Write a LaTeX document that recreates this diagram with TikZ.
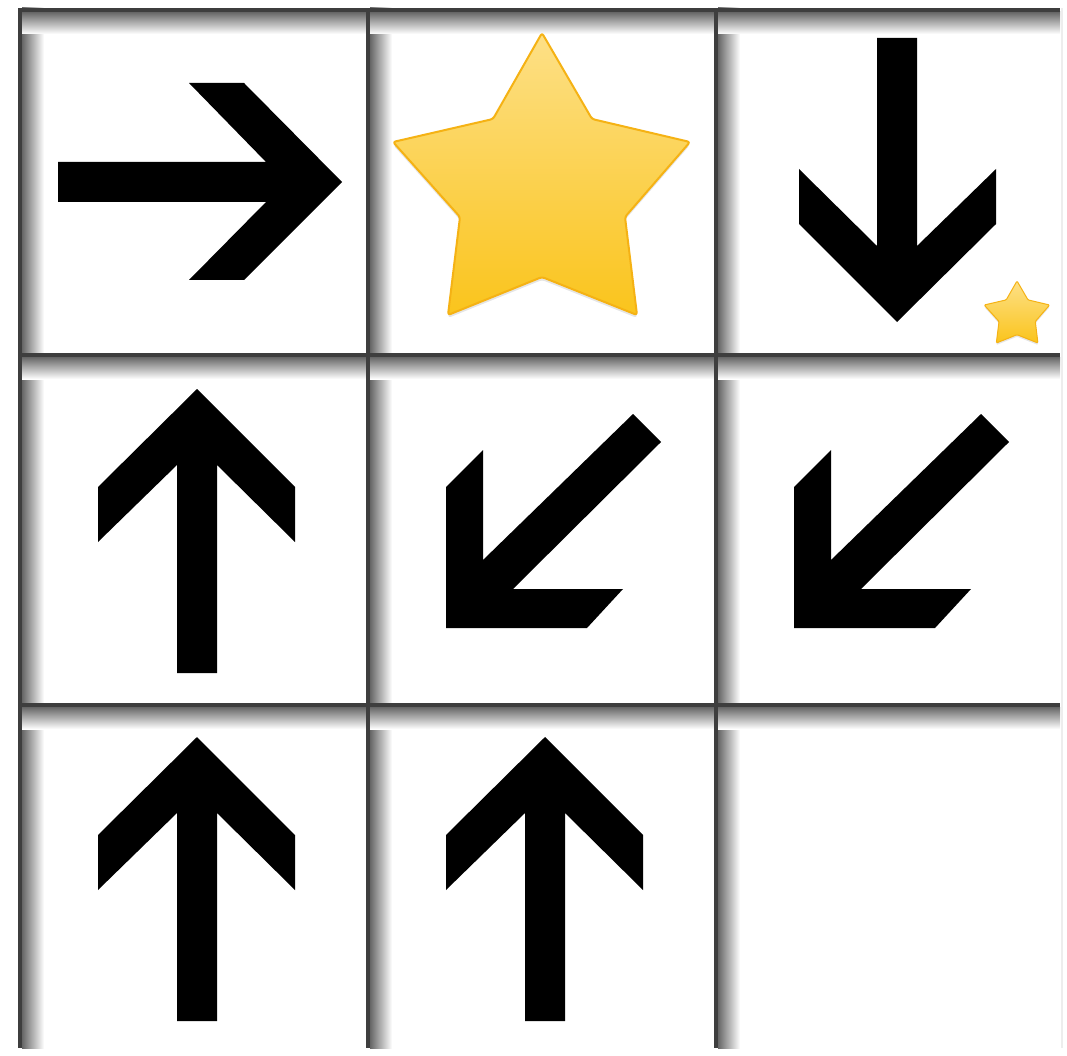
\documentclass[tikz,border=0pt]{standalone}
\usetikzlibrary{calc}
\definecolor{starTop}{RGB}{253,224,135}
\definecolor{starBot}{RGB}{250,196,28}
\definecolor{starEdge}{RGB}{245,178,20}
\definecolor{gridcore}{RGB}{62,62,62}
\tikzset{
  arrowfill/.style={fill=black},
  starbody/.style={top color=starTop, bottom color=starBot, draw=starEdge, line width=2pt, rounded corners=2.5pt, line join=round},
  starshadow/.style={fill=black, opacity=0.10, rounded corners=3pt},
  uparr/.pic={\fill[arrowfill] (0,0) -- (98,98) -- (98,153) -- (20,76) -- (20,284) -- (-20,284) -- (-20,76) -- (-99,153) -- (-99,98) -- cycle;},
  dlarr/.pic={\fill[arrowfill] (0,0) -- (37,-37) -- (37,73) -- (187,-73) -- (215,-45) -- (67,102) -- (177,102) -- (141,141) -- (0,141) -- cycle;},
  starpath/.pic={\path[pic actions] (0,0) -- (50,86) -- (148,109) -- (83,184) -- (95,282) -- (0,244) -- (-94,282) -- (-82,184) -- (-149,109) -- (-49,86) -- cycle;},
  vshadow/.style={left color=black!60, right color=white},
  hshadow/.style={top color=black!60, bottom color=white},
}
\begin{document}
\begin{tikzpicture}[x=1pt,y=-1pt]
\useasboundingbox[fill=white] (0,0) rectangle (1067,1056);
% faint right border
\fill[black!7] (1061,8) rectangle (1063,1048);
% shadows of grid lines
\foreach \xx in {18,366,714} {
  \shade[vshadow] (\xx+4,8) rectangle (\xx+26,1048);
}
\foreach \yy in {8,353,703} {
  \shade[hshadow] (18,\yy+4) rectangle (1060,\yy+26);
}
% cores of grid lines
\foreach \xx in {18,366,714} {
  \fill[gridcore] (\xx,8) rectangle (\xx+4,1048);
}
\foreach \yy in {8,353,703} {
  \fill[gridcore] (18,\yy) rectangle (1060,\yy+4);
}
% row 1
\pic[rotate=-90] at (342,182) {uparr};
\begin{scope}[shift={(542,36)}]
  \pic[starshadow] {starpath};
\end{scope}
\begin{scope}[shift={(542,33)}]
  \pic[starbody] {starpath};
\end{scope}
\pic[rotate=180] at (897,322) {uparr};
% small star
\path[starshadow, rounded corners=1pt] (1017,283) -- (1028,302) -- (1049.6,307) -- (1035.3,323.5) -- (1037.9,345) -- (1017,336.7) -- (996.3,345) -- (999,323.5) -- (984.2,307) -- (1006.2,302) -- cycle;
\path[starbody, line width=1pt, rounded corners=1pt] (1017,281) -- (1028,299.9) -- (1049.6,305) -- (1035.3,321.5) -- (1037.9,343) -- (1017,334.7) -- (996.3,343) -- (999,321.5) -- (984.2,305) -- (1006.2,299.9) -- cycle;
% row 2
\pic at (197,389) {uparr};
\pic at (446,487) {dlarr};
\pic at (794,487) {dlarr};
% row 3
\pic at (197,737) {uparr};
\pic at (545,737) {uparr};
\end{tikzpicture}
\end{document}
